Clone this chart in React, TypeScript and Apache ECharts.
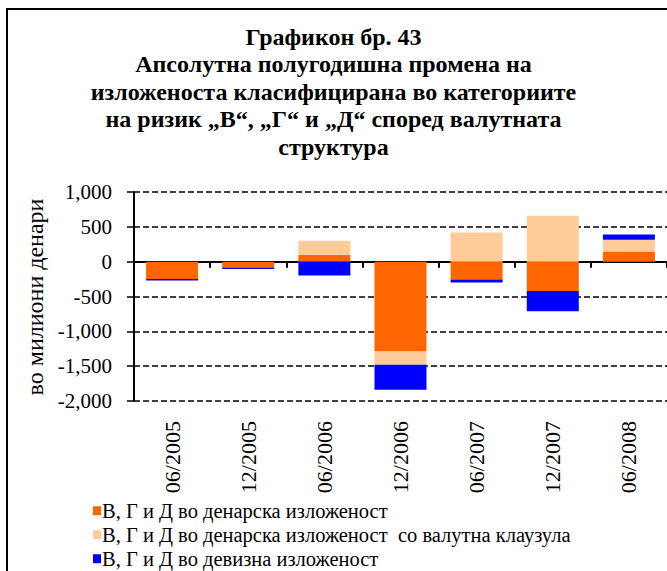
import React, { useEffect, useRef } from "react";
import * as echarts from "echarts";

const categories = ["06/2005", "12/2005", "06/2006", "12/2006", "06/2007", "12/2007", "06/2008"];
const seriesNames = [
  "В, Г и Д во денарска изложеност",
  "В, Г и Д во денарска изложеност  со валутна клаузула",
  "В, Г и Д во девизна изложеност",
];
const denarValues = [-250, -85, 100, -1290, -255, -420, 145];
const clauseValues = [0, 0, 200, -190, 420, 660, 170];
const foreignValues = [-20, -20, -200, -360, -45, -290, 75];
const seriesColors = ["#FF6600", "#FFCC99", "#0000FF"];
const titleLines = [
  "Графикон бр. 43",
  "Апсолутна полугодишна промена на",
  "изложеноста класифицирана во категориите",
  "на ризик „В“, „Г“ и „Д“ според валутната",
  "структура",
];
const yAxisName = "во милиони денари";

const FONT = "'Liberation Serif', 'Times New Roman', serif";

export default function App() {
  const ref = useRef<HTMLDivElement>(null);
  useEffect(() => {
    if (!ref.current) return;
    const chart = echarts.init(ref.current, undefined, { renderer: "svg" });
    const values = [denarValues, clauseValues, foreignValues];
    chart.setOption({
      animation: false,
      backgroundColor: "#ffffff",
      title: {
        text: titleLines.join("\n"),
        left: "center",
        top: 18,
        textStyle: {
          fontFamily: FONT,
          fontWeight: "bold",
          fontSize: 24,
          lineHeight: 27.5,
          color: "#000",
        },
      },
      legend: {
        orient: "vertical",
        left: 93,
        top: 500,
        itemWidth: 8,
        itemHeight: 9,
        itemGap: 2.5,
        icon: "rect",
        padding: 0,
        textStyle: { fontFamily: FONT, fontSize: 20.5, color: "#000", lineHeight: 21.5, padding: [0, 0, 0, -4] },
        data: seriesNames,
      },
      graphic: [
        {
          type: "rect",
          shape: { x: 7, y: 9, width: 720, height: 640 },
          style: { fill: "none", stroke: "#000", lineWidth: 2 },
          silent: true,
        },
        {
          type: "text",
          x: 35,
          y: 297,
          rotation: Math.PI / 2,
          style: {
            text: yAxisName,
            fontFamily: FONT,
            fontSize: 24,
            fill: "#000",
            align: "center",
            verticalAlign: "middle",
          },
        },
      ],
      grid: { left: 134, top: 192, width: 540, height: 209, containLabel: false },
      xAxis: [
        {
          type: "category",
          data: categories,
          position: "bottom",
          axisLine: { onZero: true, lineStyle: { color: "#000", width: 2 } },
          axisTick: { show: true, interval: 0, length: 6, lineStyle: { color: "#000", width: 2 } },
          axisLabel: { show: false },
          splitLine: { show: false },
        },
        {
          type: "category",
          data: categories,
          position: "bottom",
          axisLine: { show: false, onZero: false },
          axisTick: { show: false },
          axisLabel: {
            show: true,
            rotate: 90,
            margin: 20,
            fontFamily: FONT,
            fontSize: 22,
            color: "#000",
            interval: 0,
          },
          splitLine: { show: false },
        },
      ],
      yAxis: {
        type: "value",
        min: -2000,
        max: 1000,
        interval: 500,
        axisLine: { show: true, lineStyle: { color: "#000", width: 2 } },
        axisTick: { show: true, length: 7, lineStyle: { color: "#000", width: 1.5 } },
        axisLabel: {
          margin: 22,
          fontFamily: FONT,
          fontSize: 21,
          color: "#000",
          formatter: (v: number) => v.toLocaleString("en-US"),
        },
        splitLine: { show: true, lineStyle: { color: "#000", width: 1.5, type: [6, 3] } },
      },
      series: seriesNames.map((name, i) => ({
        name,
        type: "bar",
        stack: "total",
        xAxisIndex: 0,
        barWidth: 52,
        data: values[i],
        itemStyle: { color: seriesColors[i] },
      })),
    });
    return () => chart.dispose();
  }, []);
  return (
    <div
      ref={ref}
      style={{ position: "fixed", left: 0, top: 0, width: 667, height: 620 }}
    />
  );
}
